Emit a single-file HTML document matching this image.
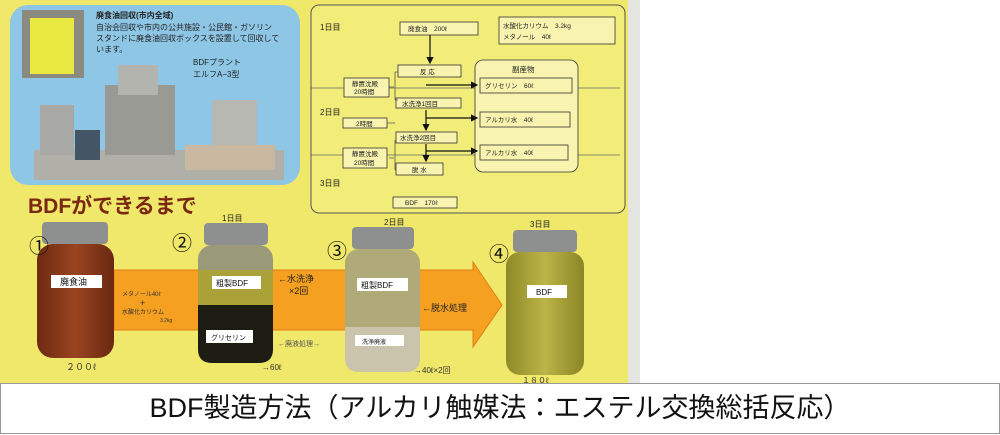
<!DOCTYPE html>
<html><head><meta charset="utf-8"><style>
html,body{margin:0;padding:0;background:#fff;}
body{width:1000px;height:435px;position:relative;overflow:hidden;font-family:"Liberation Sans","Noto Sans CJK JP",sans-serif;}
svg text{font-family:"Liberation Sans","Noto Sans CJK JP",sans-serif;}
.cap{position:absolute;left:0;top:383px;width:998px;height:49px;border:1px solid #999;background:#fff;text-align:center;line-height:49px;font-size:27px;color:#111;font-family:"Liberation Sans","Noto Sans CJK JP",sans-serif;}
</style></head><body>
<svg width="1000" height="435" style="position:absolute;left:0;top:0">
<defs>
<linearGradient id="j1" x1="0" x2="1"><stop offset="0" stop-color="#6e2a12"/><stop offset=".5" stop-color="#9a4420"/><stop offset="1" stop-color="#6a2810"/></linearGradient>
<linearGradient id="j4" x1="0" x2="1"><stop offset="0" stop-color="#8e8a28"/><stop offset=".5" stop-color="#bcb448"/><stop offset="1" stop-color="#8a8626"/></linearGradient>
<marker id="ah" markerWidth="6" markerHeight="6" refX="5" refY="3" orient="auto"><path d="M0,0 L6,3 L0,6z" fill="#111"/></marker>
</defs>
<rect x="0" y="0" width="628" height="383" fill="#efe86a"/>
<rect x="628" y="0" width="12" height="383" fill="#e4e4e0"/>
<rect x="10" y="5" width="290" height="180" rx="18" fill="#8ec6e6"/>
<rect x="22" y="10" width="62" height="68" fill="#8a8a80"/>
<rect x="30" y="18" width="44" height="56" fill="#e8e840"/>
<text x="96" y="18" font-size="8" font-weight="bold" fill="#222">廃食油回収(市内全域)</text>
<text x="96" y="30" font-size="8" fill="#222">自治会回収や市内の公共施設・公民館・ガソリン</text>
<text x="96" y="41" font-size="8" fill="#222">スタンドに廃食油回収ボックスを設置して回収して</text>
<text x="96" y="52" font-size="8" fill="#222">います。</text>
<text x="193" y="65" font-size="8" fill="#222">BDFプラント</text>
<text x="193" y="77" font-size="8" fill="#222">エルフA−3型</text>
<rect x="34" y="150" width="250" height="30" fill="#b0b0a8"/>
<rect x="40" y="105" width="34" height="50" fill="#a8a8a4"/>
<rect x="105" y="85" width="70" height="70" fill="#9a9a94"/>
<rect x="118" y="65" width="40" height="30" fill="#b4b4ae"/>
<rect x="212" y="100" width="45" height="60" fill="#b8b8b2"/>
<rect x="185" y="145" width="90" height="25" fill="#c8b8a0"/>
<rect x="75" y="130" width="25" height="30" fill="#445566"/>
<rect x="311" y="5" width="314" height="208" rx="8" fill="#f2ec78" stroke="#555" stroke-width="1"/>
<path d="M311,88 H620 M311,155 H620" stroke="#666" stroke-width="0.8" fill="none"/>
<text x="320" y="30" font-size="8" fill="#222">1日目</text>
<text x="320" y="115" font-size="8" fill="#222">2日目</text>
<text x="320" y="186" font-size="8" fill="#222">3日目</text>
<g fill="#f8f4b0" stroke="#333" stroke-width="0.8">
<rect x="400" y="22" width="78" height="13"/>
<rect x="499" y="17" width="116" height="27"/>
<rect x="398" y="65" width="63" height="12"/>
<rect x="475" y="60" width="103" height="112" rx="8"/>
<rect x="480" y="78" width="92" height="15"/>
<rect x="344" y="78" width="45" height="19"/>
<rect x="396" y="98" width="65" height="10"/>
<rect x="343" y="118" width="44" height="10"/>
<rect x="480" y="112" width="90" height="15"/>
<rect x="396" y="132" width="61" height="11"/>
<rect x="480" y="145" width="88" height="15"/>
<rect x="343" y="148" width="44" height="20"/>
<rect x="396" y="163" width="47" height="12"/>
<rect x="393" y="197" width="64" height="11"/>
</g>
<g font-size="6.5" fill="#222">
<text x="408" y="31">廃食油　200ℓ</text>
<text x="503" y="28">水酸化カリウム　3.2kg</text>
<text x="503" y="39">メタノール　40ℓ</text>
<text x="420" y="74">反 応</text>
<text x="512" y="72" font-size="7.5">副産物</text>
<text x="485" y="88">グリセリン　60ℓ</text>
<text x="352" y="86">静置沈殿</text>
<text x="354" y="94">20時間</text>
<text x="402" y="106">水洗浄1回目</text>
<text x="356" y="126">2時間</text>
<text x="485" y="122">アルカリ水　40ℓ</text>
<text x="400" y="140">水洗浄2回目</text>
<text x="485" y="155">アルカリ水　40ℓ</text>
<text x="352" y="156">静置沈殿</text>
<text x="354" y="165">20時間</text>
<text x="412" y="172">脱 水</text>
<text x="405" y="205">BDF　170ℓ</text>
</g>
<g stroke="#111" stroke-width="1.2" fill="none" marker-end="url(#ah)">
<path d="M430,35 V63"/>
<path d="M426,85 H477"/>
<path d="M426,110 V130"/>
<path d="M426,118 H477"/>
<path d="M426,144 V161"/>
<path d="M426,151 H477"/>
</g>
<path d="M389,87 H394 M395,72 V100 M395,72 H398 M395,100 H398 M387,123 H395 M389,158 H394 M395,140 V170 M395,170 H396" stroke="#555" stroke-width="0.8" fill="none"/>
<text x="28" y="213" font-size="21" font-weight="bold" fill="#7a2812">BDFができるまで</text>
<path d="M114,270 H473 V262 L502,305 L473,347 V330 H114z" fill="#f5a020" stroke="#e08010" stroke-width="1"/>
<rect x="42" y="222" width="66" height="22" rx="4" fill="#8e9090"/>
<rect x="37" y="244" width="77" height="114" rx="16" fill="url(#j1)"/>
<rect x="51" y="275" width="51" height="13" fill="#fff"/>
<text x="60" y="285" font-size="9" fill="#111">廃食油</text>
<text x="66" y="370" font-size="9" fill="#333">２００ℓ</text>
<text x="29" y="253" font-size="20" fill="#111">①</text>
<text x="122" y="296" font-size="6" fill="#333">メタノール40ℓ</text>
<text x="140" y="306" font-size="9" fill="#333">+</text>
<text x="122" y="314" font-size="6" fill="#333">水酸化カリウム</text>
<text x="160" y="322" font-size="5" fill="#333">3.2kg</text>
<text x="222" y="221" font-size="8" fill="#222">1日目</text>
<text x="172" y="250" font-size="20" fill="#111">②</text>
<rect x="204" y="223" width="64" height="22" rx="4" fill="#8e9090"/>
<rect x="198" y="245" width="75" height="118" rx="14" fill="#9a9a78"/>
<rect x="198" y="270" width="75" height="35" fill="#aaa238"/>
<path d="M198,305 H273 V349 Q273,363 259,363 H212 Q198,363 198,349z" fill="#1c1c12"/>
<rect x="212" y="276" width="49" height="13" fill="#fff"/>
<text x="216" y="286" font-size="8" fill="#111">粗製BDF</text>
<rect x="206" y="330" width="47" height="13" fill="#fff"/>
<text x="211" y="340" font-size="7" fill="#111">グリセリン</text>
<text x="278" y="282" font-size="9" fill="#222">←水洗浄</text>
<text x="289" y="294" font-size="9" fill="#222">×2回</text>
<text x="278" y="346" font-size="7" fill="#555">←廃液処理→</text>
<text x="262" y="370" font-size="8" fill="#333">→60ℓ</text>
<text x="384" y="225" font-size="8" fill="#222">2日目</text>
<text x="327" y="258" font-size="20" fill="#111">③</text>
<rect x="352" y="227" width="62" height="22" rx="4" fill="#8e9090"/>
<rect x="345" y="249" width="75" height="123" rx="14" fill="#b0aa78"/>
<path d="M345,327 H420 V358 Q420,372 406,372 H359 Q345,372 345,358z" fill="#cbc4ac"/>
<rect x="357" y="278" width="51" height="13" fill="#fff"/>
<text x="361" y="288" font-size="8" fill="#111">粗製BDF</text>
<rect x="355" y="335" width="49" height="11" fill="#fff"/>
<text x="362" y="344" font-size="6" fill="#111">洗浄廃液</text>
<text x="422" y="311" font-size="9" fill="#222">←脱水処理</text>
<text x="414" y="373" font-size="8" fill="#333">→40ℓ×2回</text>
<text x="530" y="227" font-size="8" fill="#222">3日目</text>
<text x="489" y="261" font-size="20" fill="#111">④</text>
<rect x="513" y="230" width="64" height="22" rx="4" fill="#8e9090"/>
<rect x="506" y="252" width="78" height="123" rx="14" fill="url(#j4)"/>
<rect x="527" y="285" width="40" height="13" fill="#fff"/>
<text x="536" y="295" font-size="8" fill="#111">BDF</text>
<text x="522" y="383" font-size="8" fill="#333">１８０ℓ</text>
</svg>
<div class="cap">BDF製造方法（アルカリ触媒法：エステル交換総括反応）</div>
</body></html>
